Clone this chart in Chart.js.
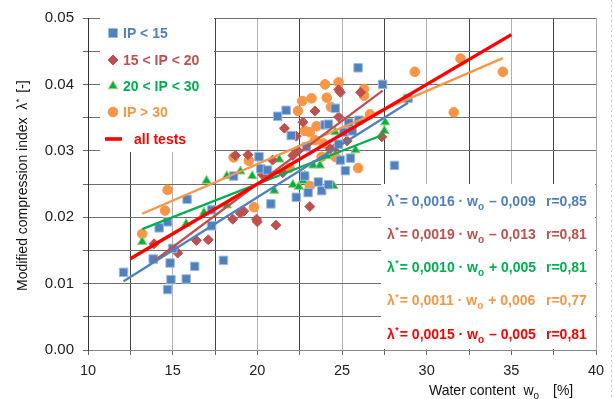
<!DOCTYPE html>
<html>
<head>
<meta charset="utf-8">
<script src="https://cdn.jsdelivr.net/npm/chart.js@4/dist/chart.umd.min.js"></script>
<style>
  html, body { margin: 0; padding: 0; background: #fff; }
  #wrap { width: 615px; height: 399px; }
</style>
</head>
<body>
<div id="wrap"><canvas id="c" width="615" height="399"></canvas></div>
<script>
// Water content w0 [%] and modified compression index lambda* [-], grouped by plasticity index
const ipLt15X = [12.1, 13.85, 14.2, 14.7, 14.7, 14.85, 14.9, 15.0, 15.8, 15.85, 16.3, 17.3, 17.3, 18.0, 18.6,
                 20.1, 20.2, 20.6, 20.8, 21.2, 21.7, 22.0, 22.3, 22.8, 22.9, 23.0, 23.6, 23.8, 24.0, 24.2,
                 24.2, 24.6, 24.8, 24.9, 25.1, 25.2, 25.4, 25.5, 25.6, 25.95, 26.0, 27.4, 28.1, 28.9];
const ipLt15Y = [0.0117, 0.0137, 0.0184, 0.0193, 0.0091, 0.0131, 0.0106, 0.0153, 0.0107, 0.0227, 0.0126, 0.0187, 0.0211, 0.0135, 0.0262,
                 0.0291, 0.0273, 0.0271, 0.0220, 0.0352, 0.0361, 0.0323, 0.0230, 0.0262, 0.0306, 0.0237, 0.0253, 0.0240, 0.0339, 0.0340,
                 0.0249, 0.0364, 0.0310, 0.0286, 0.0328, 0.0270, 0.0342, 0.0289, 0.0330, 0.0425, 0.0346, 0.0400, 0.0278, 0.0379];

const ip15to20X = [13.9, 15.3, 16.4, 17.1, 18.55, 18.7, 19.0, 19.2, 19.45, 19.95, 20.0, 20.3, 20.9, 21.1, 21.5,
                   21.6, 22.1, 22.3, 22.4, 22.7, 23.1, 23.4, 24.3, 24.6, 24.8, 24.9, 24.8, 25.3, 26.1, 27.35];
const ip15to20Y = [0.0160, 0.0146, 0.0165, 0.0166, 0.0197, 0.0293, 0.0206, 0.0209, 0.0294, 0.0197, 0.0193, 0.0264, 0.0286, 0.0188, 0.0267,
                   0.0334, 0.0293, 0.0322, 0.0300, 0.0343, 0.0216, 0.0360, 0.0303, 0.0305, 0.0392, 0.0388, 0.0351, 0.0315, 0.0388, 0.0321];

const ip20to30X = [13.2, 15.8, 16.85, 17.0, 18.2, 18.2, 19.0, 19.7, 21.0, 21.3, 22.1, 22.45, 22.7, 22.8, 23.3,
                   23.7, 24.1, 24.5, 24.6, 25.8, 27.5, 27.55];
const ip20to30Y = [0.0163, 0.0190, 0.0207, 0.0255, 0.0262, 0.0218, 0.0269, 0.0262, 0.0240, 0.0287, 0.0249, 0.0246, 0.0255, 0.0263, 0.0278,
                   0.0278, 0.0292, 0.0247, 0.0328, 0.0301, 0.0330, 0.0343];

const ipGt30X = [13.2, 14.55, 14.7, 18.6, 19.5, 19.8, 21.9, 22.4, 22.65, 22.8, 23.1, 23.1, 23.2, 23.4, 23.5,
                 23.8, 23.9, 24.0, 24.1, 24.35, 24.6, 24.8, 25.95, 26.3, 26.3, 26.65, 29.3, 31.6, 32.0, 34.5];
const ipGt30Y = [0.0175, 0.0210, 0.0241, 0.0290, 0.0285, 0.0215, 0.0274, 0.0360, 0.0375, 0.0330, 0.0328, 0.0247, 0.0379, 0.0316, 0.0337,
                 0.0291, 0.0311, 0.0400, 0.0380, 0.0366, 0.0291, 0.0403, 0.0274, 0.0393, 0.0383, 0.0355, 0.0419, 0.0358, 0.0439, 0.0419];

// Linear fits lambda* = a * w0 + b: IP<15, 15<IP<20, 20<IP<30, IP>30, all tests
const fitSlope     = [0.0016, 0.0019, 0.0010, 0.0011, 0.0015];
const fitIntercept = [-0.009, -0.013, 0.005, 0.006, -0.005];
const fitR         = [0.85, 0.81, 0.81, 0.77, 0.81];
const fitFrom      = [12.1, 13.9, 13.2, 13.2, 12.5];
const fitTo        = [28.9, 27.4, 27.5, 34.5, 35.0];

const seriesLabels = ['IP < 15', '15 < IP < 20', '20 < IP < 30', 'IP > 30', 'all tests'];
const colors = ['#4f81bd', '#c0504d', '#00b050', '#f79646', '#ff0000'];

const xTicks = [10, 15, 20, 25, 30, 35, 40];
const yTicks = [0.00, 0.01, 0.02, 0.03, 0.04, 0.05];

const FONT = "'Liberation Sans', Arial, Helvetica, sans-serif";

function pts(xs, ys) { return xs.map((x, i) => ({ x: x, y: ys[i] })); }
function fitLine(i) {
  return [fitFrom[i], fitTo[i]].map(x => ({ x: x, y: fitSlope[i] * x + fitIntercept[i] }));
}
function comma(v, d) { return Math.abs(v).toFixed(d).replace('.', ','); }

const scatterStyles = [
  { pointStyle: 'rect',    pointRadius: 6,   backgroundColor: '#4f81bd', borderColor: '#9dbbe0', borderWidth: 1 },
  { pointStyle: 'rectRot', pointRadius: 5,   backgroundColor: '#c0504d', borderColor: '#c0504d', borderWidth: 1 },
  { pointStyle: 'triangle',pointRadius: 5.3, backgroundColor: '#00b050', borderColor: '#9bd060', borderWidth: 1 },
  { pointStyle: 'circle',  pointRadius: 4.8, backgroundColor: '#f79646', borderColor: '#f79646', borderWidth: 1 }
];
const groups = [pts(ipLt15X, ipLt15Y), pts(ip15to20X, ip15to20Y), pts(ip20to30X, ip20to30Y), pts(ipGt30X, ipGt30Y)];

const datasets = [];
groups.forEach((g, i) => {
  datasets.push(Object.assign({
    type: 'scatter', label: seriesLabels[i], data: g, order: 2, pointHoverRadius: 5
  }, scatterStyles[i]));
});
fitSlope.forEach((a, i) => {
  datasets.push({
    type: 'line', label: seriesLabels[i] + ' fit', data: fitLine(i),
    borderColor: colors[i], borderWidth: i === 4 ? 3.4 : 2.3,
    pointRadius: 0, fill: false, tension: 0, order: i === 4 ? 0 : 1
  });
});

// White panels for the legend (upper left) and the regression equations (lower right)
const panels = {
  id: 'panels',
  beforeDraw(chart) {
    const ctx = chart.ctx;
    ctx.save();
    ctx.strokeStyle = '#c8c8c8';
    ctx.lineWidth = 1;
    ctx.setLineDash([2, 3]);
    ctx.beginPath(); ctx.moveTo(611.5, 0); ctx.lineTo(611.5, 399); ctx.stroke();
    ctx.restore();
  },
  beforeDatasetsDraw(chart) {
    const ctx = chart.ctx;
    ctx.save();
    ctx.fillStyle = '#ffffff';
    ctx.fillRect(100, 13, 114, 139);
    ctx.fillRect(381, 184, 214, 165);
    ctx.restore();
  },
  afterDatasetsDraw(chart) {
    const ctx = chart.ctx;
    ctx.save();
    // legend
    const lx = 113;
    const rows = [33, 60, 86, 112];
    ctx.textBaseline = 'middle';
    ctx.font = 'bold 14px ' + FONT;
    rows.forEach((y, i) => {
      ctx.fillStyle = colors[i];
      ctx.strokeStyle = scatterStyles[i].borderColor;
      ctx.lineWidth = 1;
      ctx.beginPath();
      if (i === 0) {
        ctx.rect(lx - 4.5, y - 4.5, 9, 9);
      } else if (i === 1) {
        ctx.moveTo(lx, y - 5); ctx.lineTo(lx + 5, y); ctx.lineTo(lx, y + 5); ctx.lineTo(lx - 5, y);
        ctx.closePath();
      } else if (i === 2) {
        ctx.moveTo(lx, y - 5.3); ctx.lineTo(lx + 4.6, y + 2.7); ctx.lineTo(lx - 4.6, y + 2.7);
        ctx.closePath();
      } else {
        ctx.arc(lx, y, 4.8, 0, Math.PI * 2);
      }
      ctx.fill();
      ctx.stroke();
      ctx.fillStyle = colors[i];
      ctx.fillText(seriesLabels[i], 123, y + 1);
    });
    ctx.strokeStyle = colors[4];
    ctx.lineWidth = 3.6;
    ctx.beginPath(); ctx.moveTo(105, 139); ctx.lineTo(122, 139); ctx.stroke();
    ctx.fillStyle = colors[4];
    ctx.fillText(seriesLabels[4], 134, 140);

    // regression equations
    const eqRows = [202, 235, 268, 301.5, 335];
    eqRows.forEach((y, i) => {
      ctx.fillStyle = colors[i];
      let x = 387;
      ctx.font = 'bold 14px ' + FONT;
      ctx.fillText('λ', x, y);
      x += ctx.measureText('λ').width;
      ctx.font = 'bold 9px ' + FONT;
      ctx.fillText('*', x + 0.5, y - 4);
      x += 5;
      ctx.font = 'bold 14px ' + FONT;
      const mid = '= ' + comma(fitSlope[i], 4) + ' · w';
      ctx.fillText(mid, x, y);
      x += ctx.measureText(mid).width;
      ctx.font = 'bold 10px ' + FONT;
      ctx.fillText('o', x, y + 5);
      x += ctx.measureText('o').width;
      ctx.font = 'bold 14px ' + FONT;
      const tail = ' ' + (fitIntercept[i] < 0 ? '–' : '+') + ' ' + comma(fitIntercept[i], 3);
      ctx.fillText(tail, x + 1, y);
      ctx.fillText('r=' + comma(fitR[i], 2), 546, y);
    });

    // axis titles
    ctx.fillStyle = '#111';
    ctx.font = '14px ' + FONT;
    ctx.textBaseline = 'alphabetic';
    let tx = 429;
    const t1 = 'Water content  w';
    ctx.fillText(t1, tx, 395);
    tx += ctx.measureText(t1).width;
    ctx.font = '10px ' + FONT;
    ctx.fillText('o', tx, 399 - 0.5);
    ctx.font = '14px ' + FONT;
    ctx.fillText('[%]', 553, 395);

    ctx.translate(27, 291);
    ctx.rotate(-Math.PI / 2);
    ctx.font = '14px ' + FONT;
    const y1 = 'Modified compression index  λ';
    ctx.fillText(y1, 0, 0);
    let ty = ctx.measureText(y1).width;
    ctx.font = '9px ' + FONT;
    ctx.fillText('*', ty + 0.5, -5);
    ctx.font = '14px ' + FONT;
    ctx.fillText('[-]', ty + 10, 0);
    ctx.restore();
  }
};

function xGridColor(ctx) {
  const v = ctx.tick ? ctx.tick.value : 0;
  if (Math.abs(v - 10) < 1e-6) return '#333';
  if (Math.abs(v - 40) < 1e-6) return '#aaa';
  return (Math.round(v * 2) % 10 === 0) ? '#b0b0b0' : '#444';
}

new Chart(document.getElementById('c'), {
  type: 'scatter',
  data: { datasets: datasets },
  options: {
    responsive: false,
    animation: false,
    layout: { padding: { top: 12, right: 19, left: 0, bottom: 0 } },
    plugins: { legend: { display: false }, tooltip: { enabled: false } },
    scales: {
      x: {
        type: 'linear', min: 10, max: 40,
        afterFit(scale) { scale.height = 49; },
        afterBuildTicks(scale) {
          const t = [];
          for (let v = 10; v <= 40 + 1e-9; v += 2.5) t.push({ value: v });
          scale.ticks = t;
        },
        ticks: {
          autoSkip: false, maxRotation: 0, padding: 7,
          color: '#222', font: { family: FONT, size: 14.5 },
          callback: v => xTicks.some(t => Math.abs(t - v) < 1e-6) ? String(Math.round(v)) : ''
        },
        grid: { color: xGridColor, tickColor: '#666', tickLength: 5, lineWidth: 1 },
        border: { display: true, color: '#888', width: 1 }
      },
      y: {
        type: 'linear', min: 0, max: 0.05,
        afterFit(scale) { scale.width = 88; },
        afterBuildTicks(scale) {
          const t = [];
          for (let k = 0; k <= 10; k++) t.push({ value: k * 0.005 });
          scale.ticks = t;
        },
        ticks: {
          autoSkip: false, padding: 9,
          color: '#222', font: { family: FONT, size: 15 },
          callback: v => {
            const hit = yTicks.find(t => Math.abs(t - v) < 1e-9);
            return hit === undefined ? '' : hit.toFixed(2);
          }
        },
        grid: { color: '#6e6e6e', tickColor: '#666', tickLength: 5, lineWidth: 1 },
        border: { display: true, color: '#333', width: 1 }
      }
    }
  },
  plugins: [panels]
});
</script>
</body>
</html>
